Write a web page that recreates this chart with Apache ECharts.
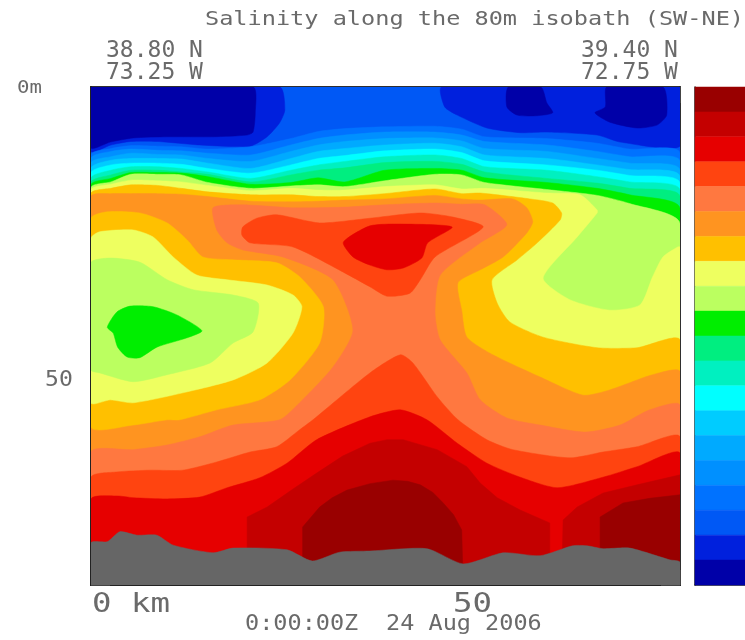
<!DOCTYPE html>
<html><head><meta charset="utf-8"><style>html,body{margin:0;background:#fff}#c{width:745px;height:640px}</style>
<script src="https://cdn.jsdelivr.net/npm/echarts@6/dist/echarts.min.js"></script></head>
<body><div id="c"></div><script>
// salinity band colours, index 0 = highest class (top of colour bar)
const bandColors=['#990000','#c40000','#e60000','#ff4410','#ff7840','#ff9420','#ffc000','#eeff60','#bbff60','#00ee00','#00ee80','#00f0c0','#00ffff','#00ccff','#00aaff','#0090ff','#0072ff','#0058f5','#0020dd','#0000a8'];
const terrainColor='#666666';
const maxKm=79.6, maxDepth=85;
const titleText='Salinity along the 80m isobath (SW-NE)';
const startLat='38.80 N', startLon='73.25 W', endLat='39.40 N', endLon='72.75 W';
const timeText='0:00:00Z', dateText='24 Aug 2006';
const xTickLabels=['0 km','50'], yTickLabels=['0m','50'];

// contour depths (m) read at these along-section stations (km)
const stationKm=[0,2.7,5.4,9,12.2,15.8,21.6,27,30.7,34.3,39.7,46.5,50.1,53.2,61.6,68.4,72.8,79.6];
const top16=[11.6,10.5,10.0,10.1,10.2,10.6,10.2,8.8,7.6,7.1,6.8,6.7,7.2,8.5,8.8,9.6,10.6,11.3];
const top15=[12.2,11.0,10.6,10.8,10.9,11.3,11.6,9.9,8.8,8.2,7.7,7.7,8.2,9.3,9.9,11.0,11.9,12.7];
const top14=[13.0,11.9,11.3,11.5,11.6,12.2,12.7,11.0,9.9,9.3,8.8,8.7,9.2,10.5,11.0,12.2,13.0,14.2];
const top13=[13.9,12.5,12.2,12.2,12.3,13.0,13.9,12.2,11.0,10.5,9.9,9.6,10.2,11.6,12.2,13.3,14.1,15.3];
const top12=[14.7,13.3,13.0,13.0,13.2,13.9,14.7,13.3,12.2,11.7,10.9,10.6,11.2,12.6,13.3,14.2,15.1,16.4];
const top11=[15.6,14.2,13.6,13.6,13.9,14.5,15.6,14.2,13.3,12.7,11.9,11.6,12.2,13.6,14.2,15.3,16.2,17.6];
const top10=[16.3,15.0,14.2,14.2,14.5,14.9,16.2,15.0,14.2,13.8,12.9,12.7,13.2,14.5,15.6,16.4,17.3,18.7];
const top9=[16.7,15.6,14.6,14.6,14.7,15.3,16.6,16.3,15.5,16.2,14.2,13.9,14.2,15.5,16.3,17.3,18.4,20.7];
const top8=[17.2,16.2,14.9,14.9,15.0,16.3,17.3,16.9,16.7,17.0,16.0,14.9,15.0,16.3,17.5,18.5,19.9,23.3];

// closed contour outlines, [km, depth m]
const band17All=[[0,0],[79.6,0],[79.6,85],[0,85]];
const band18Left=[[0,0],[25.5,0],[26.2,3.9],[25.5,6.1],[23.8,8.5],[21.5,10.1],[14.7,9.9],[9,9.3],[5.4,9.3],[2.7,9.9],[0,11.0]];
const band19Left=[[0,0],[21.9,0],[22.2,4.4],[21.9,7.7],[21.1,8.2],[16.5,8.5],[10.3,8.5],[5.7,8.7],[2.6,9.4],[0,10.4]];
const band18Right=[[47.4,0],[47.8,3.4],[49.5,4.8],[53.5,7.0],[58.0,7.8],[61.6,7.7],[68.4,8.2],[71.5,9.4],[79.6,10.1],[79.6,0]];
const band19A=[[56.4,0],[56.2,3.4],[57.6,4.8],[60.3,4.9],[62.4,4.4],[61.6,2.7],[60.8,0]];
const band19B=[[69.7,0],[69.5,3.4],[68.1,4.4],[70.1,6.0],[73.8,7.0],[76.5,6.5],[77.8,4.8],[77.3,0]];
const band7Region=[[0,17.6],[2.7,16.6],[5.4,15.9],[9,16.0],[12.2,16.2],[15.8,16.8],[21.6,17.7],[27,17.3],[30.7,17.6],[34.3,17.6],[39.7,17.0],[46.5,16.7],[50.1,17.4],[53.2,17.3],[57.6,17.7],[61.6,18.1],[66.1,18.4],[68.4,21.0],[68.4,21.5],[65.7,25.6],[61.1,32.6],[64.7,36.3],[70.1,38.1],[74.2,37.2],[75.9,32.4],[77.3,29.0],[79.3,27.3],[79.6,27.3],[79.6,85],[0,85]];
const band6Region=[[0,18.2],[2.7,17.3],[5.4,16.7],[9,16.8],[12.2,17.3],[15.8,17.9],[21.6,18.4],[27,18.4],[30.7,18.7],[34.3,18.7],[39.7,18.2],[46.5,17.4],[50.1,18.2],[52.6,18.1],[59.3,19.1],[62.4,19.8],[63.6,21.5],[63.4,22.7],[60.3,26.6],[57.6,29.5],[54.2,32.9],[54.9,36.9],[56.6,40.1],[61.1,42.7],[68.4,44.5],[73.8,44.5],[79.6,43.2],[79.6,85],[0,85]];
const band5Region=[[0,18.7],[2.7,18.2],[5.4,18.2],[9,18.2],[12.2,18.3],[15.8,18.7],[21.6,19.5],[27,19.6],[30.7,19.5],[34.3,19.3],[39.7,19.1],[46.5,18.5],[50.1,19.1],[52.6,19.3],[57.0,19.1],[58.9,20.6],[59.7,23.0],[58.9,24.9],[55.7,29.0],[52.6,31.2],[49.6,33.4],[50.1,38.1],[50.8,42.7],[54.3,45.7],[60.7,49.5],[66.5,52.6],[70.1,51.7],[75.9,49.1],[79.6,48.6],[79.6,85],[0,85]];
const pool6=[[0,58.0],[5.7,57.7],[10.3,56.8],[12.0,56.8],[17.0,55.1],[22.8,53.4],[26.9,50.0],[30.9,43.7],[31.4,37.5],[28.2,32.4],[25.1,30.0],[19.2,29.5],[15.1,29.0],[13.0,26.1],[10.3,23.2],[6.6,21.5],[2.2,21.3],[0,22.4]];
const pool7=[[0,25.8],[1.2,24.7],[5.7,24.4],[8.4,25.6],[11.1,29.0],[14.3,32.1],[18.4,32.9],[23.8,33.8],[27.3,35.5],[28.5,37.5],[27.3,42.0],[23.8,47.1],[19.2,50.0],[12.4,52.2],[5.7,53.9],[2.6,53.4],[0,53.9]];
const pool8=[[0,30.0],[2.6,29.2],[6.6,29.9],[10.3,32.9],[13.8,34.6],[19.2,35.5],[22.6,36.9],[21.9,41.8],[19.2,43.7],[16.1,47.1],[10.3,49.1],[5.7,50.3],[1.2,48.8],[0,48.3]];
const pool9=[[2.2,41.0],[3.5,38.4],[5.3,37.4],[8.4,37.5],[11.6,38.9],[15.0,41.6],[13.0,42.8],[8.9,44.4],[6.6,46.2],[4.9,46.1],[3.6,44.4],[3.0,42.0]];
const band4Region=[[16.5,20.6],[20.3,20.1],[27.0,20.6],[30.7,20.6],[34.3,20.5],[39.7,20.1],[46.5,19.8],[50.1,20.0],[53.2,20.1],[56.2,23.5],[52.6,26.6],[47.2,32.1],[46.5,38.6],[47.2,43.2],[50.8,48.8],[52.6,53.4],[56.2,56.5],[60.7,57.7],[66.8,58.9],[71.5,57.7],[75.5,55.1],[79.6,54.3],[79.6,85],[0,85],[0,62.3],[5.7,61.9],[10.3,61.1],[14.7,59.7],[19.2,57.7],[25.5,56.8],[28.2,53.9],[32.7,47.8],[35.4,41.5],[32.7,32.9],[25.9,29.0],[20.5,27.8],[18.4,26.6],[17.0,24.4]];
const band3Patch=[[37.7,22.4],[44.5,21.5],[48.9,22.2],[53.0,23.9],[46.5,29.0],[44.5,32.9],[43.1,35.2],[40.0,35.7],[37.7,34.1],[34.1,31.6],[27.3,27.3],[21.5,26.6],[20.4,25.3],[20.5,23.9],[22.4,22.4],[25.1,21.8],[30.9,23.2]];
const band2Patch=[[34.1,26.5],[37.7,23.7],[42.2,23.4],[48.8,23.9],[45.5,26.6],[44.7,29.2],[42.2,30.9],[40.0,31.2],[37.7,30.4],[35.4,29.0]];
const band3Deep=[[0,66.6],[3.5,65.7],[8.0,65.4],[12.4,65.4],[17.0,64.0],[21.5,62.3],[25.1,61.4],[28.2,58.5],[30,56.8],[37.7,48.8],[41.8,45.7],[43.5,47.1],[46.8,52.9],[49.6,56.8],[53.5,60.2],[57.0,61.9],[64.7,63.3],[69.2,62.3],[73.8,61.4],[79.6,59.7],[79.6,85],[0,85]];
const band2Deep=[[0,70.3],[3.5,69.8],[5.7,70.1],[10.3,70.3],[14.7,70.0],[18.4,68.4],[22.8,66.7],[26.5,64.2],[30.5,60.2],[37.7,56.3],[41.8,55.1],[45.4,56.8],[49.5,60.8],[53.5,64.2],[58.0,66.6],[63.0,68.4],[69.2,66.6],[73.8,64.8],[79.6,62.5],[79.6,85],[0,85]];
const band1Left=[[21.1,85],[21.1,73.4],[23.8,71.7],[27.2,68.7],[30.5,65.9],[34,63.0],[37.7,60.8],[40,60.2],[42.2,60.2],[46.8,61.9],[50.8,64.8],[52.6,67.6],[54.9,70.1],[58.0,72.2],[62.0,74.4],[62.0,85]];
const band1Right=[[63.6,85],[63.8,73.9],[65.7,71.7],[69.2,69.3],[73.8,67.9],[79.6,66.2],[79.6,85]];
const band0Left=[[28.6,85],[28.6,75.1],[30.9,71.7],[32.6,70.1],[34.6,68.8],[37.7,67.7],[40.8,67.1],[42.8,67.3],[44.5,67.9],[46.2,69.2],[47.6,71.0],[49,73],[50.1,75.6],[50.3,85]];
const band0Right=[[68.8,85],[68.8,73.4],[71.9,71.0],[75.5,70.2],[79.6,69.6],[79.6,85]];
const seabedDepth=[[0,77.8],[2.2,77.6],[3.9,75.9],[6.2,76.5],[8.9,76.5],[11.1,78.2],[16.5,79.5],[19.2,78.7],[26.5,79.0],[29.9,80.9],[33.6,79.4],[37.7,79.2],[45.4,78.8],[50.3,81.4],[55.7,79.5],[60.7,80.0],[65.1,78.3],[67.0,78.3],[69.2,78.8],[72.8,78.7],[78.2,80.7],[79.6,81.1]];

const below=d=>stationKm.map((k,i)=>[k,d[i]]).concat([[maxKm,maxDepth],[0,maxDepth]]);
const SOFT=0.22, HARD=0;
const layers=[
 [17,band17All,HARD],[18,band18Left,SOFT],[19,band19Left,SOFT],[18,band18Right,SOFT],[19,band19A,SOFT],[19,band19B,SOFT],
 [16,below(top16),SOFT],[15,below(top15),SOFT],[14,below(top14),SOFT],[13,below(top13),SOFT],[12,below(top12),SOFT],
 [11,below(top11),SOFT],[10,below(top10),SOFT],[9,below(top9),SOFT],[8,below(top8),SOFT],
 [7,band7Region,SOFT],[6,band6Region,SOFT],[5,band5Region,SOFT],
 [6,pool6,SOFT],[7,pool7,SOFT],[8,pool8,SOFT],[9,pool9,SOFT],
 [4,band4Region,SOFT],[3,band3Patch,SOFT],[2,band2Patch,SOFT],
 [3,band3Deep,SOFT],[2,band2Deep,SOFT],[1,band1Left,HARD],[1,band1Right,HARD],[0,band0Left,HARD],[0,band0Right,HARD]
].map(l=>({color:bandColors[l[0]],pts:l[1],smooth:l[2]}));
layers.push({color:terrainColor,pts:seabedDepth.concat([[maxKm,maxDepth],[0,maxDepth]]),smooth:SOFT});

const frame='#222';
const xAx=(pos,step,len,lw)=>({type:'value',gridIndex:0,position:pos,min:0,max:maxKm,interval:step,
  axisLine:{show:true,onZero:false,lineStyle:{color:frame,width:lw}},axisTick:{show:true,inside:true,length:len,lineStyle:{color:'#444'}},axisLabel:{show:false},splitLine:{show:false}});
const yAx=(pos,step,len,lw)=>({type:'value',gridIndex:0,position:pos,inverse:true,min:0,max:maxDepth,interval:step,
  axisLine:{show:true,onZero:false,lineStyle:{color:frame,width:lw}},axisTick:{show:true,inside:true,length:len,lineStyle:{color:'#444'}},axisLabel:{show:false},splitLine:{show:false}});

const FONT='"DejaVu Sans Mono"';
const txt=(text,x,y,size,sx)=>({type:'text',x,y,scaleX:sx,silent:true,z:50,
  style:{text,font:size+'px '+FONT,fill:'#6a6a6a',textAlign:'left',textVerticalAlign:'middle'}});

const chart=echarts.init(document.getElementById('c'),null,{renderer:'canvas'});
chart.setOption({
 animation:false,backgroundColor:'#fff',
 grid:[{left:91,top:87,width:589,height:498},{left:695,top:87,width:50,height:498}],
 xAxis:[xAx('bottom',10,8,2),xAx('top',10,8,1.5),xAx('bottom',50,15,2),xAx('top',50,16,1.5),
  {type:'value',gridIndex:1,min:0,max:1,axisLine:{show:true,onZero:false,lineStyle:{color:frame,width:1.5}},axisTick:{show:false},axisLabel:{show:false},splitLine:{show:false}}],
 yAxis:[yAx('left',10,8,2),yAx('right',10,8,1.5),yAx('left',50,19,2),yAx('right',50,19,1.5),
  {type:'value',gridIndex:1,min:0,max:20,inverse:true,axisLine:{show:true,onZero:false,lineStyle:{color:frame,width:1.5}},axisTick:{show:false},axisLabel:{show:false},splitLine:{show:false}}],
 series:[
  {type:'custom',xAxisIndex:0,yAxisIndex:0,clip:true,silent:true,z:1,data:layers.map((l,i)=>[i,i]),
   renderItem:(p,api)=>{const l=layers[p.dataIndex];
    return {type:'polygon',shape:{points:l.pts.map(q=>api.coord(q)),smooth:l.smooth},style:{fill:l.color,stroke:l.color,lineWidth:0.5}};}},
  {type:'custom',xAxisIndex:4,yAxisIndex:4,silent:true,z:1,data:bandColors.map((c,i)=>[i,i]),
   renderItem:(p,api)=>{const i=p.dataIndex,a=api.coord([0,i]),b=api.coord([1,i+1]);
    return {type:'rect',shape:{x:a[0],y:a[1],width:b[0]-a[0],height:b[1]-a[1]},style:{fill:bandColors[i],stroke:bandColors[i],lineWidth:0.5}};}}
 ],
 graphic:[
  txt(titleText,205,20,19,1.24),
  txt(startLat,106,51,23,1),txt(startLon,106,73,23,1),
  txt(endLat,581,51,23,1),txt(endLon,581,73,23,1),
  txt(yTickLabels[0],17,88,18,1.15),txt(yTickLabels[1],45,381,21,1.1),
  txt(xTickLabels[0],92,605,27,1.2),txt(xTickLabels[1],453,605,27,1.2),
  txt(timeText,245,625,21,1.12),txt(dateText,386,625,21,1.12)
 ]
});
</script></body></html>
